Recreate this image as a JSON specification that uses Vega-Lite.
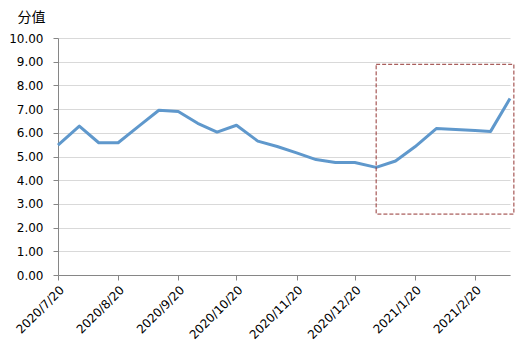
{
  "$schema": "https://vega.github.io/schema/vega-lite/v6.json",
  "autosize": {"type": "none"},
  "width": 452,
  "height": 237,
  "padding": {"left": 58, "top": 38, "right": 22, "bottom": 80},
  "background": "white",
  "config": {
    "view": {"stroke": null},
    "font": "DejaVu Sans",
    "axis": {"labelFont": "DejaVu Sans", "labelFontSize": 12, "labelColor": "#000", "domainColor": "#868686", "tickColor": "#868686", "gridColor": "#d9d9d9", "gridWidth": 1}
  },
  "datasets": {
    "series": [
      {"date": "2020-07-20", "value": 5.48},
      {"date": "2020-07-31", "value": 6.28},
      {"date": "2020-08-10", "value": 5.58},
      {"date": "2020-08-20", "value": 5.58},
      {"date": "2020-08-31", "value": 6.3},
      {"date": "2020-09-10", "value": 6.95},
      {"date": "2020-09-20", "value": 6.9},
      {"date": "2020-09-30", "value": 6.4},
      {"date": "2020-10-10", "value": 6.03},
      {"date": "2020-10-20", "value": 6.32},
      {"date": "2020-10-31", "value": 5.65},
      {"date": "2020-11-10", "value": 5.42},
      {"date": "2020-11-20", "value": 5.15},
      {"date": "2020-11-30", "value": 4.87},
      {"date": "2020-12-10", "value": 4.75},
      {"date": "2020-12-20", "value": 4.75},
      {"date": "2020-12-31", "value": 4.54},
      {"date": "2021-01-10", "value": 4.81},
      {"date": "2021-01-20", "value": 5.41},
      {"date": "2021-01-31", "value": 6.18},
      {"date": "2021-02-10", "value": 6.14},
      {"date": "2021-02-20", "value": 6.1},
      {"date": "2021-02-28", "value": 6.06},
      {"date": "2021-03-10", "value": 7.45}
    ],
    "box": [
      {"date": "2020-12-31", "date_end": "2021-03-12", "value": 8.89, "value_low": 2.57}
    ]
  },
  "encoding": {
    "x": {
      "field": "date", "type": "temporal",
      "scale": {"type": "utc", "domain": [{"year": 2020, "month": 7, "date": 20, "utc": true}, {"year": 2021, "month": 3, "date": 10, "utc": true}]},
      "axis": {
        "title": null, "grid": false, "labelAngle": -45, "format": "%Y/%-m/%-d",
        "tickSize": 5, "labelPadding": 4, "labelOverlap": false, "labelFlush": false,
        "values": [
          {"year": 2020, "month": 7, "date": 20, "utc": true},
          {"year": 2020, "month": 8, "date": 20, "utc": true},
          {"year": 2020, "month": 9, "date": 20, "utc": true},
          {"year": 2020, "month": 10, "date": 20, "utc": true},
          {"year": 2020, "month": 11, "date": 20, "utc": true},
          {"year": 2020, "month": 12, "date": 20, "utc": true},
          {"year": 2021, "month": 1, "date": 20, "utc": true},
          {"year": 2021, "month": 2, "date": 20, "utc": true}
        ]
      }
    },
    "y": {
      "field": "value", "type": "quantitative",
      "scale": {"domain": [0, 10], "nice": false},
      "axis": {
        "values": [0, 1, 2, 3, 4, 5, 6, 7, 8, 9, 10], "tickCount": 11, "format": ".2f",
        "tickSize": 5, "labelPadding": 10, "labelFlush": false, "labelOverlap": false,
        "title": "分值", "titleAngle": 0, "titleAlign": "left", "titleBaseline": "middle",
        "titleX": -41, "titleY": -21, "titleFontSize": 14, "titleFontWeight": "normal", "titleFont": "Noto Sans CJK SC", "titleColor": "#000"
      }
    }
  },
  "layer": [
    {
      "data": {"name": "series"},
      "mark": {"type": "line", "color": "#5f98cc", "strokeWidth": 3, "strokeJoin": "round"}
    },
    {
      "data": {"name": "box"},
      "mark": {"type": "rect", "fill": null, "fillOpacity": 0, "stroke": "#943634", "strokeWidth": 1, "strokeDash": [4, 2], "clip": false},
      "encoding": {
        "x2": {"field": "date_end"},
        "y2": {"field": "value_low"}
      }
    }
  ]
}
